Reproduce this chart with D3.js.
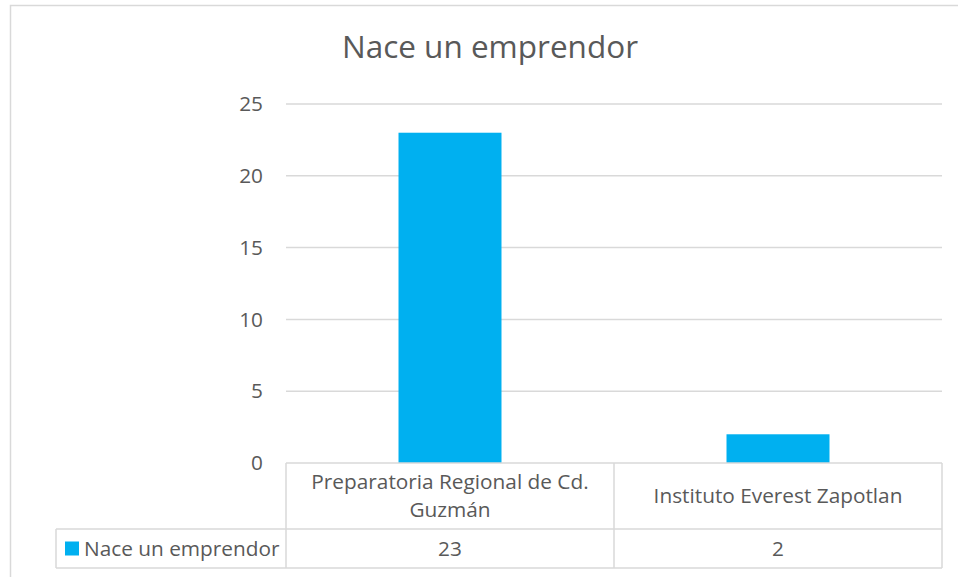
<!DOCTYPE html>
<html>
<head>
<meta charset="utf-8">
<script src="https://cdn.jsdelivr.net/npm/d3@7"></script>
<style>
  body { margin: 0; background: #fff; }
  svg text { font-family: "Open Sans", sans-serif; fill: #595959; }
</style>
</head>
<body>
<svg width="958" height="577"></svg>
<script>
// chart data
var title = "Nace un emprendor";
var seriesName = "Nace un emprendor";
var categories = [["Preparatoria Regional de Cd.", "Guzmán"], ["Instituto Everest Zapotlan"]];
var values = [23, 2];
var yTicks = [0, 5, 10, 15, 20, 25];

var svg = d3.select("svg"),
    margin = {left: 286, right: 16, top: 104, bottom: 114},
    plotLeft = margin.left,
    plotRight = 958 - margin.right,
    plotTop = margin.top,
    plotBottom = 577 - margin.bottom,
    gridColor = "#d9d9d9",
    barColor = "#00b0f0",
    fs = "20.8px";

// outer chart frame (runs off the right/bottom edge like the screenshot)
svg.append("rect")
    .attr("x", 10.5).attr("y", 5.5)
    .attr("width", 1000).attr("height", 700)
    .attr("fill", "none")
    .attr("stroke", gridColor)
    .attr("stroke-width", 1.5);

svg.append("text")
    .attr("x", 490).attr("y", 58)
    .attr("text-anchor", "middle")
    .style("font-size", "31.5px")
    .text(title);

var x = d3.scaleBand()
    .domain(d3.range(values.length))
    .range([plotLeft, plotRight]);

var y = d3.scaleLinear()
    .domain([0, 25])
    .range([plotBottom, plotTop]);

// gridlines
svg.append("g")
    .selectAll("line")
    .data(yTicks.filter(function(d) { return d > 0; }))
    .join("line")
    .attr("x1", plotLeft).attr("x2", plotRight)
    .attr("y1", function(d) { return y(d); })
    .attr("y2", function(d) { return y(d); })
    .attr("stroke", gridColor)
    .attr("stroke-width", 1.5);

// y axis labels
var yAxis = svg.append("g")
    .attr("transform", "translate(" + plotLeft + ",0)")
    .call(d3.axisLeft(y).tickValues(yTicks).tickSize(0).tickPadding(23));
yAxis.select(".domain").remove();
yAxis.selectAll("text")
    .attr("fill", null)
    .style("font-size", fs)
    .attr("dy", "0.32em");

// bars
var barW = x.bandwidth() * 0.314;
svg.append("g")
    .selectAll("rect")
    .data(values)
    .join("rect")
    .attr("x", function(d, i) { return x(i) + (x.bandwidth() - barW) / 2; })
    .attr("y", function(d) { return y(d); })
    .attr("width", barW)
    .attr("height", function(d) { return y(0) - y(d); })
    .attr("fill", barColor);

// data table
var row1Bottom = plotBottom + 66,
    row2Bottom = row1Bottom + 39,
    legendLeft = 56;

var tbl = svg.append("g")
    .attr("stroke", gridColor)
    .attr("stroke-width", 1.5);

tbl.append("line").attr("x1", plotLeft).attr("x2", plotRight).attr("y1", plotBottom).attr("y2", plotBottom);
tbl.append("line").attr("x1", legendLeft).attr("x2", plotRight).attr("y1", row1Bottom).attr("y2", row1Bottom);
tbl.append("line").attr("x1", legendLeft).attr("x2", plotRight).attr("y1", row2Bottom).attr("y2", row2Bottom);
tbl.append("line").attr("x1", legendLeft).attr("x2", legendLeft).attr("y1", row1Bottom).attr("y2", row2Bottom);
tbl.selectAll(".col")
    .data(d3.range(values.length + 1))
    .join("line")
    .attr("x1", function(i) { return plotLeft + i * x.bandwidth(); })
    .attr("x2", function(i) { return plotLeft + i * x.bandwidth(); })
    .attr("y1", plotBottom).attr("y2", row2Bottom);

// category labels
svg.append("g")
    .selectAll("text")
    .data(categories)
    .join("text")
    .attr("text-anchor", "middle")
    .style("font-size", fs)
    .attr("transform", function(d, i) {
        var cy = (plotBottom + row1Bottom) / 2;
        return "translate(" + (x(i) + x.bandwidth() / 2) + "," + (cy - (d.length - 1) * 14) + ")";
    })
    .selectAll("tspan")
    .data(function(d) { return d; })
    .join("tspan")
    .attr("x", 0)
    .attr("dy", function(d, j) { return j === 0 ? "0.35em" : "28px"; })
    .text(function(d) { return d; });

// value row
svg.append("g")
    .selectAll("text")
    .data(values)
    .join("text")
    .attr("x", function(d, i) { return x(i) + x.bandwidth() / 2; })
    .attr("y", (row1Bottom + row2Bottom) / 2)
    .attr("dy", "0.35em")
    .attr("text-anchor", "middle")
    .style("font-size", fs)
    .text(function(d) { return d; });

// legend key
svg.append("rect")
    .attr("x", 65).attr("y", (row1Bottom + row2Bottom) / 2 - 7)
    .attr("width", 14).attr("height", 14)
    .attr("fill", barColor);
svg.append("text")
    .attr("x", 84).attr("y", (row1Bottom + row2Bottom) / 2)
    .attr("dy", "0.35em")
    .style("font-size", fs)
    .text(seriesName);
</script>
</body>
</html>
